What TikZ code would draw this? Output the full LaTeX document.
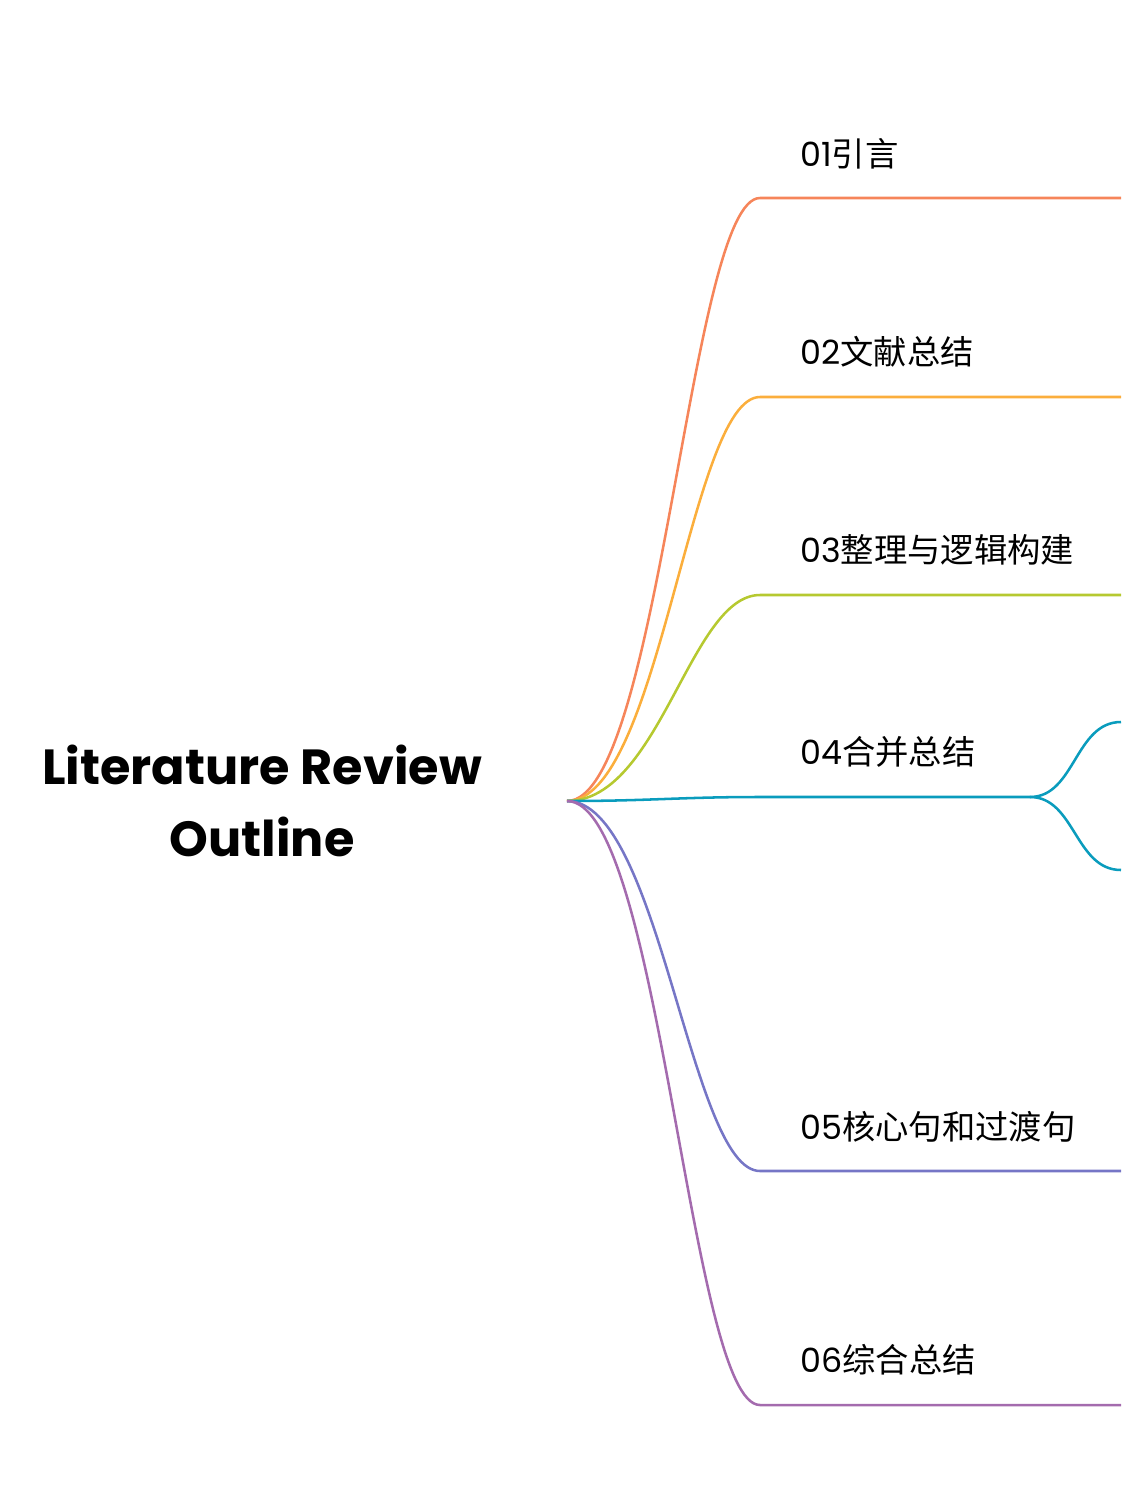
\documentclass[tikz,border=0pt]{standalone}
\usepackage{fontspec}
\setmainfont{Poppins}
\newfontfamily\cjk{Noto Sans CJK SC}
\definecolor{c1}{HTML}{F6855A}
\definecolor{c2}{HTML}{FBAE3C}
\definecolor{c3}{HTML}{B6C930}
\definecolor{c4}{HTML}{0A9CBD}
\definecolor{c5}{HTML}{7676C6}
\definecolor{c6}{HTML}{A46BAE}
\begin{document}
\begin{tikzpicture}[x=0.75pt,y=-0.75pt,
        every node/.style={inner sep=0pt, anchor=base west, font=\fontsize{25}{30}\selectfont}
    ]
    \tikzstyle {branch} = [line width=1.9pt]
    \tikzstyle {title_box} = [anchor=center, align=center, font=\fontsize{37}{54}\selectfont\bfseries]

    \useasboundingbox (0,0) rectangle (1121,1495);

    \node [title_box] (title) at (262,801) {Literature Review\\Outline};
    \coordinate (root) at (567,801);

    \node (l1) at (800,166) {01{\cjk 引言}};
    \node (l2) at (800,364) {02{\cjk 文献总结}};
    \node (l3) at (800,562) {03{\cjk 整理与逻辑构建}};
    \node (l4) at (800,764) {04{\cjk 合并总结}};
    \node (l5) at (800,1139) {05{\cjk 核心句和过渡句}};
    \node (l6) at (800,1372) {06{\cjk 综合总结}};

    \coordinate (e1) at (1121,198);
    \coordinate (e2) at (1121,397);
    \coordinate (e3) at (1121,595);
    \coordinate (k4) at (1030,797);
    \coordinate (e4a) at (1121,722);
    \coordinate (e4b) at (1121,870);
    \coordinate (e5) at (1121,1171);
    \coordinate (e6) at (1121,1405);

    \draw [branch, c1] (root) .. controls (660,801) and (690,198) .. (760,198) -- (e1);
    \draw [branch, c2] (root) .. controls (660,801) and (690,397) .. (760,397) -- (e2);
    \draw [branch, c3] (root) .. controls (660,801) and (690,595) .. (760,595) -- (e3);
    \draw [branch, c4] (root) .. controls (650,801) and (680,797) .. (760,797) -- (k4);
    \draw [branch, c4] (k4) .. controls (1075,797) and (1075,722) .. (e4a);
    \draw [branch, c4] (k4) .. controls (1075,797) and (1075,870) .. (e4b);
    \draw [branch, c5] (root) .. controls (660,801) and (690,1171) .. (760,1171) -- (e5);
    \draw [branch, c6] (root) .. controls (660,801) and (690,1405) .. (760,1405) -- (e6);
\end{tikzpicture}
\end{document}
